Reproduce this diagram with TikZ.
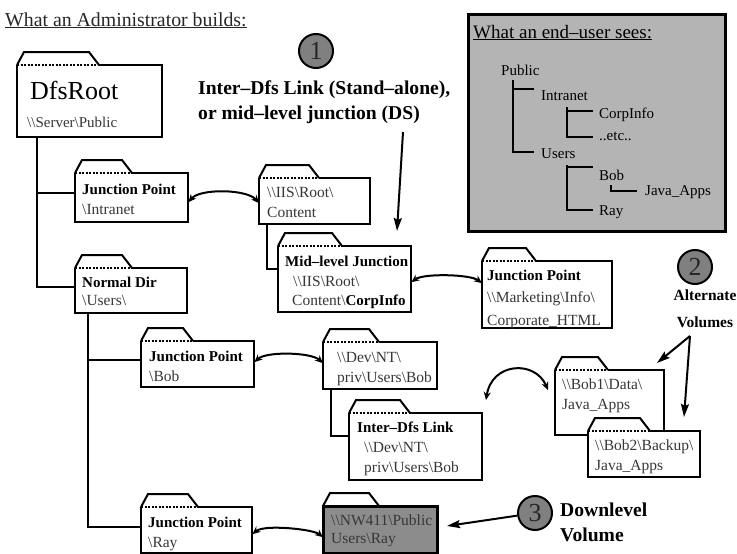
\documentclass[tikz,border=0pt]{standalone}
\usepackage{fontspec}
\setmainfont{Liberation Serif}
\usetikzlibrary{arrows.meta}

\definecolor{boxgray}{RGB}{180,180,180}
\definecolor{dotgray}{RGB}{128,128,128}
\definecolor{volgray}{RGB}{140,140,140}
\definecolor{ink}{RGB}{55,55,55}

\newcommand\bsl{\textbackslash}
\newcommand\fsz[2]{\fontsize{#1}{#2}\selectfont}
\newcommand\hd[1]{\textcolor{black}{\fontsize{15}{20}\selectfont\bfseries #1}}

% folder: [body fill]{name}{x}{y}{width}{height}{tab top length}
\newcommand\folder[7][white]{%
  \node[inner sep=0pt, fill=#1, minimum width=#5pt, minimum height=#6pt,
        anchor=north west] (#2) at (#3,#4) {};
  \filldraw[fline, fill=white] (#2.north west) -- ++(7,-13) -- ++(#7,0) -- ++(10,13);
  \draw[fline] ([xshift=#7pt+17pt]#2.north west) -- (#2.north east)
     -- (#2.south east) -- (#2.south west) -- (#2.north west);
  \draw[fdots] (#2.north west) -- ++(#7+17,0);
}

\begin{document}
\begin{tikzpicture}[x=1pt,y=-1pt,
  fline/.style={line width=2pt, line join=miter},
  fdots/.style={line width=2pt, dash pattern=on 2.2pt off 1.3pt},
  % multi-line captions are anchored on the baseline of their last line
  ftxt/.style={inner sep=0pt, align=left, text=ink, font=\fsz{15.5}{20}, anchor=base west},
  link/.style={line width=2pt},
  swap/.style={line width=2pt, {Stealth[length=8pt,width=7pt]}-{Stealth[length=8pt,width=7pt]}},
  pointer/.style={line width=2pt, -{Stealth[length=13pt,width=8pt,inset=2pt]}},
  badge/.style={circle, draw, line width=2pt, fill=dotgray, minimum size=34pt,
                inner sep=0pt, text=black!85, font=\fsz{26}{26}},
  heading/.style={inner sep=0pt, font=\bfseries\fsz{19.6}{25}, align=left, anchor=base west},
  treeline/.style={line width=2.5pt},
  leaf/.style={inner sep=0pt, font=\fsz{15}{17}, anchor=base west},
]
\useasboundingbox (0,0) rectangle (737,554);

% ---- titles ----
\node[inner sep=0pt, anchor=base west, font=\fsz{19.8}{22}, text=black!85] (adm)
  at (5,26) {\underline{What an Administrator builds:}};

% ---- end-user view ----
\node[draw, line width=2.5pt, fill=boxgray, minimum width=257pt, minimum height=217pt,
      anchor=north west, inner sep=0pt] (view) at (467,13) {};
\node[inner sep=0pt, anchor=base west, font=\fsz{19}{20}] (view-t)
  at (473,38) {\underline{What an end--user sees:}};
\node[leaf] (pub) at (501,75) {Public};
\node[leaf] (t-intr) at (541,100) {Intranet};
\node[leaf] (t-corp) at (599,118) {CorpInfo};
\node[leaf] (t-etc) at (599,140) {..etc..};
\node[leaf] (t-users) at (541,158) {Users};
\node[leaf] (t-bob) at (599,180) {Bob};
\node[leaf] (t-java) at (645,195) {Java\_Apps};
\node[leaf] (t-ray) at (599,215) {Ray};
\draw[treeline] ([shift={(12,5)}]pub.base west) |- ([shift={(-7,-11)}]t-intr.base west);
\draw[treeline] ([shift={(12,5)}]pub.base west) |- ([shift={(-7,-6)}]t-users.base west);
\draw[treeline] ([shift={(26,7)}]t-intr.base west) |- ([shift={(-6,-7)}]t-corp.base west);
\draw[treeline] ([shift={(26,7)}]t-intr.base west) |- ([shift={(-6,-3)}]t-etc.base west);
\draw[treeline] ([shift={(26,7)}]t-users.base west) |- ([shift={(-6,-13)}]t-bob.base west);
\draw[treeline] ([shift={(26,7)}]t-users.base west) |- ([shift={(-6,-5)}]t-ray.base west);
\draw[treeline] ([shift={(12,5)}]t-bob.base west) |- ([shift={(-8,-4)}]t-java.base west);

% ---- folders ----
\folder{root}{17}{65}{145}{72}{65}
\folder{intr}{75}{173}{113}{49}{40}
\folder{norm}{75}{268}{112}{45}{40}
\folder{iis}{259}{178}{111}{46}{43}
\folder{mid}{278}{246}{133}{66}{47}
\folder{mkt}{482}{261}{130}{67}{37}
\folder{bob}{141}{341}{113}{46}{35}
\folder{dev}{323}{342}{114}{47}{39}
\folder{inter}{349}{413}{133}{67}{44}
\folder{ray}{141}{507}{111}{46}{40}
\folder[volgray]{nw}{323}{506}{114}{47}{39}
\draw[line width=3pt] (nw.north west) -- (nw.north east) -- (nw.south east) -- (nw.south west) -- cycle;
\folder{bobA}{555}{370}{109}{65}{36}
\folder{bobB}{588}{431}{112}{46}{45}

% ---- folder captions ----
\node[ftxt, text=black] (root-t) at ([shift={(13,34)}]root.north west) {\fsz{26}{30}DfsRoot};
\node[ftxt, font=\fsz{15}{16}] (root-p) at ([shift={(10,62)}]root.north west) {\bsl\bsl Server\bsl Public};
\node[ftxt] (intr-t) at ([shift={(7,41.5)}]intr.north west) {\hd{Junction Point}\\\bsl Intranet};
\node[ftxt] (norm-t) at ([shift={(7,37)}]norm.north west) {\hd{Normal Dir}\\[-2pt]\bsl Users\bsl};
\node[ftxt] (iis-t) at ([shift={(8,39.5)}]iis.north west) {\bsl\bsl IIS\bsl Root\bsl\\Content};
\node[ftxt] (mid-t) at ([shift={(7,59.5)}]mid.north west)
  {\hd{Mid--level Junction}\\[-0.5pt]\hspace*{8pt}\bsl\bsl IIS\bsl Root\bsl\\[-0.5pt]\hspace*{7pt}Content\bsl\hd{CorpInfo}};
\node[ftxt] (mkt-t) at ([shift={(5,64)}]mkt.north west)
  {\hd{Junction Point}\\[2.5pt]\bsl\bsl Marketing\bsl Info\bsl\\[2.5pt]Corporate\_HTML};
\node[ftxt] (bob-t) at ([shift={(8,40.5)}]bob.north west) {\hd{Junction Point}\\\bsl Bob};
\node[ftxt] (dev-t) at ([shift={(14,40)}]dev.north west) {\bsl\bsl Dev\bsl NT\bsl\\[-0.5pt]priv\bsl Users\bsl Bob};
\node[ftxt] (inter-t) at ([shift={(8,59.5)}]inter.north west)
  {\hd{Inter--Dfs Link}\\\hspace*{7pt}\bsl\bsl Dev\bsl NT\bsl\\\hspace*{7pt}priv\bsl Users\bsl Bob};
\node[ftxt] (ray-t) at ([shift={(7,40.5)}]ray.north west) {\hd{Junction Point}\\\bsl Ray};
\node[ftxt] (nw-t) at ([shift={(8,37.5)}]nw.north west) {\bsl\bsl NW411\bsl Public\\[-2pt]Users\bsl Ray};
\node[ftxt] (bobA-t) at ([shift={(7,39.5)}]bobA.north west) {\bsl\bsl Bob1\bsl Data\bsl\\Java\_Apps};
\node[ftxt] (bobB-t) at ([shift={(7,39.5)}]bobB.north west) {\bsl\bsl Bob2\bsl Backup\bsl\\Java\_Apps};

% ---- hierarchy lines ----
\draw[link] ([xshift=20pt]root.south west) |- ([yshift=4.5pt]intr.west);
\draw[link] ([xshift=20pt]root.south west) |- ([yshift=3.5pt]norm.west);
\draw[link] ([xshift=13pt]norm.south west) |- ([yshift=4pt]bob.west);
\draw[link] ([xshift=13pt]norm.south west) |- ([yshift=3pt]ray.west);
\draw[link] ([xshift=8pt]iis.south west) |- ([yshift=10pt]mid.west);
\draw[link] ([xshift=8pt]dev.south west) |- ([yshift=10.5pt]inter.west);

% ---- redirections ----
\draw[swap] ([yshift=-4.5pt]intr.east) .. controls +(12,-14) and +(-12,-14) .. ([yshift=-2pt]iis.west);
\draw[swap] ([yshift=-3pt]mid.east) .. controls +(12,-9) and +(-12,-9) .. ([yshift=11.5pt]mkt.west);
\draw[swap] ([yshift=2pt]bob.east) .. controls +(12,-11) and +(-12,-11) .. ([yshift=2.5pt]dev.west);
\draw[swap] ([yshift=-4pt]ray.east) .. controls +(12,-10) and +(-10,-8) .. ([yshift=-7.5pt]nw.west);
\coordinate (alt-a) at (486,400);
\coordinate (alt-b) at (548,390);
\draw[swap] (alt-a) .. controls (492,362) and (535,360) .. (alt-b);

% ---- callouts ----
\node[badge] (n1) at (316,51) {1};
\node[heading] (lbl1) at (198,119) {Inter--Dfs Link (Stand--alone),\\or mid--level junction (DS)};
\coordinate (p1a) at (403,132);
\coordinate (p1b) at (397,231);
\draw[pointer] (p1a) -- (p1b);

\node[badge] (n2) at (695,267) {2};
\node[inner sep=0pt, font=\bfseries\fsz{15.5}{27}, align=center] (alt) at (705,309) {Alternate\\Volumes};
\coordinate (p2) at (690,336);
\coordinate (p2a) at (657,363);
\coordinate (p2b) at (684,417);
\draw[pointer] (p2) -- (p2a);
\draw[pointer] (p2) -- (p2b);

\node[badge] (n3) at (535,513) {3};
\node[heading] (dl) at (560,541) {Downlevel\\Volume};
\coordinate (p3) at (447,526);
\draw[pointer] (n3) -- (p3);
\end{tikzpicture}
\end{document}
